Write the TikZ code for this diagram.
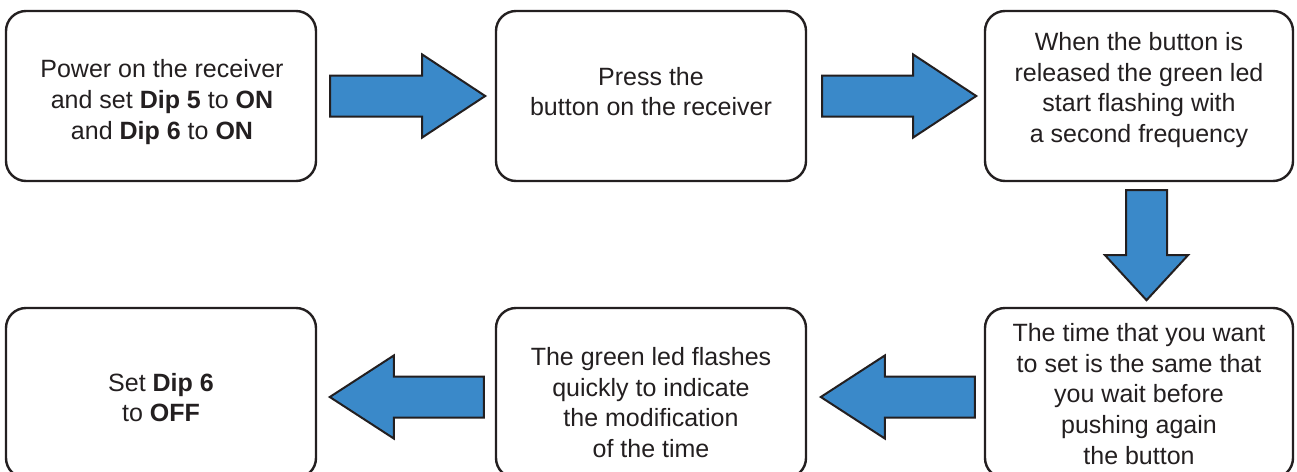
\documentclass[tikz,border=0pt]{standalone}
\usepackage{fontspec}
\setmainfont{Liberation Sans}
\usetikzlibrary{calc}
\definecolor{ink}{HTML}{231F20}
\definecolor{arrowblue}{HTML}{3A89C9}
\begin{document}
\begin{tikzpicture}[x=1pt,y=-1pt,
  box/.style={draw=ink, line width=2.4pt, rounded corners=20pt, minimum width=310pt, minimum height=170pt, inner sep=0pt},
  txt/.style={text=ink, align=center, font=\fontsize{25}{30.7}\selectfont, inner sep=0pt},
  barrowstyle/.style={draw=ink, fill=arrowblue, line width=2pt, line join=miter},
  pics/barrow/.style 2 args={code={
    \draw[barrowstyle] (0,-20.5) -- (#1-#2,-20.5) -- (#1-#2,-41.5) -- (#1,0)
      -- (#1-#2,41.5) -- (#1-#2,20.5) -- (0,20.5) -- cycle;
  }}]
\useasboundingbox (0,0) rectangle (1297,471);
\clip (0,0) rectangle (1297,471);
\fill[white] (0,0) rectangle (1297,471);
% boxes
\node[box] (b1) at (161,96) {};
\node[box] (b2) at (651,96) {};
\node[box, minimum width=308pt] (b3) at (1139,96) {};
\node[box] (b4) at (161,393) {};
\node[box] (b5) at (651,393) {};
\node[box, minimum width=308pt] (b6) at (1139,393) {};
% texts
\node[txt] (t1) at (162,102) {Power on the receiver\\and set \textbf{Dip 5} to \textbf{ON}\\and \textbf{Dip 6} to \textbf{ON}};
\node[txt] (t2) at (651,91.5) {Press the\\button on the receiver};
\node[txt] (t3) at (1139,90) {When the button is\\released the green led\\start flashing with\\a second frequency};
\node[txt] (t4) at (161,397.5) {Set \textbf{Dip 6}\\to \textbf{OFF}};
\node[txt] (t5) at (651,402.5) {The green led flashes\\quickly to indicate\\the modification\\of the time};
\node[txt] (t6) at (1139,394) {The time that you want\\to set is the same that\\you wait before\\pushing again\\the button};
% block arrows
\pic at ($(b1.east)+(13,0)$) {barrow={155}{63}};
\pic at ($(b2.east)+(15,0)$) {barrow={154}{63}};
\pic[rotate=-90] at ($(b3.south)+(7.5,8)$) {barrow={110}{45}};
\pic[rotate=180] at ($(b6.west)+(-9,4)$) {barrow={154}{64}};
\pic[rotate=180] at ($(b5.west)+(-11,4)$) {barrow={154}{64}};
\end{tikzpicture}
\end{document}
